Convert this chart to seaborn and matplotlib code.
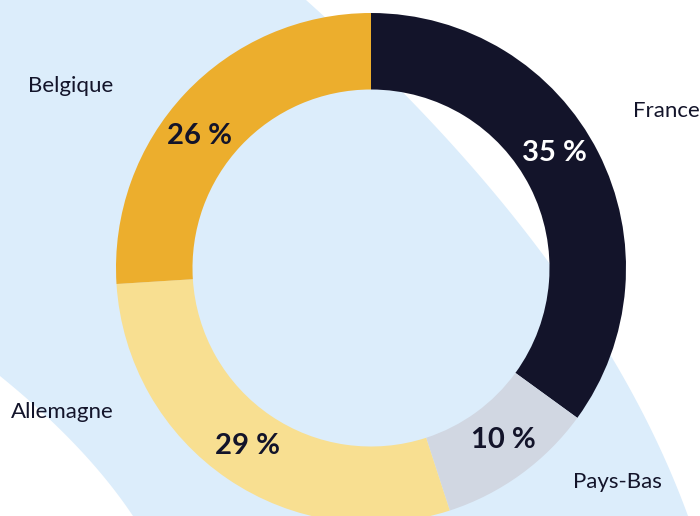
import numpy as np
import matplotlib.pyplot as plt
import seaborn as sns

# Répartition par pays
countries = ["France", "Pays-Bas", "Allemagne", "Belgique"]
shares = [35, 10, 29, 26]
pct_labels = ["35 %", "10 %", "29 %", "26 %"]

colors = ["#13142a", "#d1d7e2", "#f8df91", "#ecae2d"]
pct_colors = ["white", "#13142a", "#13142a", "#13142a"]
ink = "#13142a"
band = "#dcedfb"

sns.set_theme(style="white")
plt.rcParams["font.family"] = ["Lato", "DejaVu Sans"]

fig = plt.figure(figsize=(7, 5.16), dpi=100)

# decorative light blue band behind the donut (pixel coords)
bg = fig.add_axes([0, 0, 1, 1])
bg.set_xlim(0, 700)
bg.set_ylim(516, 0)
bg.axis("off")
yy = np.linspace(0, 516, 200)
right_edge = 306 + 1.116 * yy - 0.000728 * yy ** 2
yl = np.linspace(516, 376, 80)
left_edge = 1.234 * (yl - 376) - 0.00203 * (yl - 376) ** 2
bg.fill(np.concatenate([[0], right_edge, left_edge, [0]]),
        np.concatenate([[0], yy, yl, [376]]), color=band, lw=0)

ax = fig.add_axes([0, 0, 1, 1])
ax.patch.set_alpha(0)
wedges, _ = ax.pie(shares, colors=colors, startangle=90, counterclock=False,
                   radius=1, wedgeprops=dict(width=0.30, linewidth=0))
ax.set_xlim(-371 / 255, 329 / 255)
ax.set_ylim(-248 / 255, 268 / 255)
ax.axis("off")

# percentages inside the ring
nudge = [5, 1.6, -0.4, 5.7]
for w, txt, c, dn in zip(wedges, pct_labels, pct_colors, nudge):
    ang = np.deg2rad((w.theta1 + w.theta2) / 2 + dn)
    ax.text(0.85 * np.cos(ang), 0.85 * np.sin(ang), txt, color=c,
            fontsize=21, fontweight="bold", ha="center", va="center")

# country names around the ring
name_angle = [28, -41, -155, 148.8]
name_r = [1.314, 1.282, 1.337, 1.376]
for name, a, r in zip(countries, name_angle, name_r):
    ang = np.deg2rad(a)
    ax.text(r * np.cos(ang), r * np.sin(ang), name, color=ink,
            fontsize=16, ha="center", va="center")

fig.savefig("out.png", dpi=100)
